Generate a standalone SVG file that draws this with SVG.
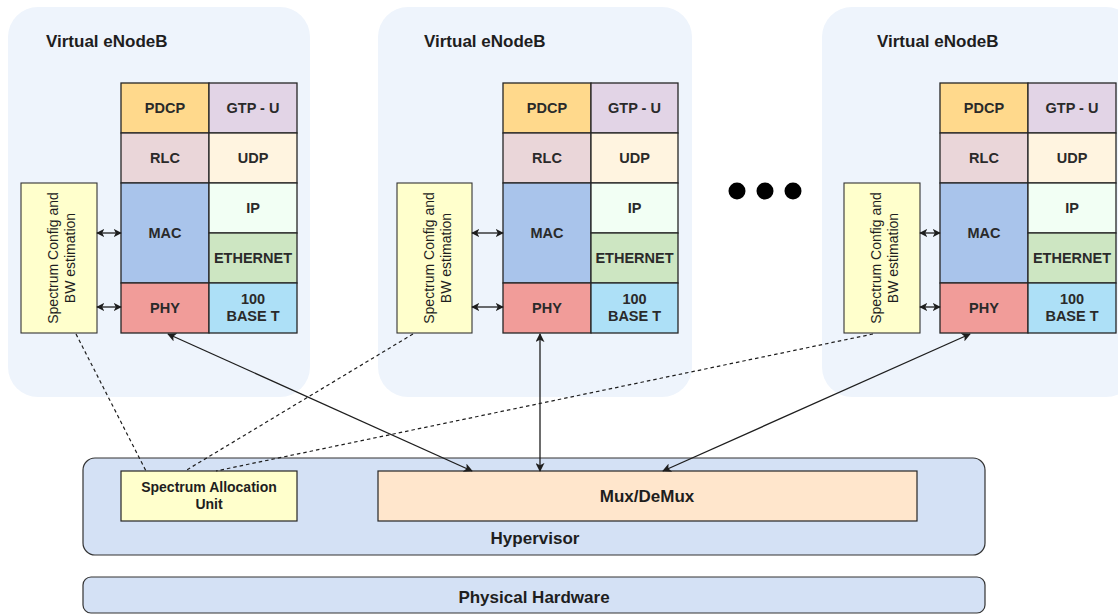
<svg xmlns="http://www.w3.org/2000/svg" width="1118" height="614" viewBox="0 0 1118 614">
<style>
text{font-family:"Liberation Sans",Arial,sans-serif;fill:#1e1e1e}
.vnb{fill:#eef4fc}
.title{font-size:17px;font-weight:bold}
.cell{stroke:#262626;stroke-width:1.3}
.lbl{font-size:14.5px;font-weight:bold;text-anchor:middle;dominant-baseline:central;fill:#2a2a2a}
.spec{fill:#ffffcc;stroke:#333;stroke-width:1.1}
.spt{font-size:14px;text-anchor:middle}
.big{font-size:17px;font-weight:bold;text-anchor:middle;dominant-baseline:central}
.hv{fill:#d4e1f5;stroke:#333;stroke-width:1.2}
.ln{stroke:#1e1e1e;stroke-width:1.3;fill:none}
.dash{stroke:#1e1e1e;stroke-width:1.2;fill:none;stroke-dasharray:3.5 3}
</style>
<defs>
<marker id="ah" viewBox="0 0 10 10" refX="9" refY="5" markerWidth="9" markerHeight="9" markerUnits="userSpaceOnUse" orient="auto-start-reverse">
<path d="M0,0 L10,5 L0,10 L2.5,5 Z" fill="#1e1e1e"/>
</marker>
<marker id="ahs" viewBox="0 0 10 10" refX="9" refY="5" markerWidth="8" markerHeight="8" markerUnits="userSpaceOnUse" orient="auto-start-reverse">
<path d="M0,0 L10,5 L0,10 L2.5,5 Z" fill="#1e1e1e"/>
</marker>
</defs>

<g id="vnb1">
<rect class="vnb" x="8" y="7" width="302" height="390" rx="30"/>
<text class="title" x="46" y="47">Virtual eNodeB</text>
<rect class="cell" x="121" y="83" width="88" height="50" fill="#ffd98c"/>
<rect class="cell" x="209" y="83" width="88" height="50" fill="#e2d4e6"/>
<rect class="cell" x="121" y="133" width="88" height="50" fill="#ead6d9"/>
<rect class="cell" x="209" y="133" width="88" height="50" fill="#fff4e0"/>
<rect class="cell" x="121" y="183" width="88" height="100" fill="#a9c4eb"/>
<rect class="cell" x="209" y="183" width="88" height="50" fill="#f2fff4"/>
<rect class="cell" x="209" y="233" width="88" height="50" fill="#cde6c2"/>
<rect class="cell" x="121" y="283" width="88" height="50" fill="#f19c99"/>
<rect class="cell" x="209" y="283" width="88" height="50" fill="#ade0f7"/>
<text class="lbl" x="165" y="108">PDCP</text>
<text class="lbl" x="253" y="108">GTP - U</text>
<text class="lbl" x="165" y="158">RLC</text>
<text class="lbl" x="253" y="158">UDP</text>
<text class="lbl" x="165" y="233">MAC</text>
<text class="lbl" x="253" y="208">IP</text>
<text class="lbl" x="253" y="258">ETHERNET</text>
<text class="lbl" x="165" y="308">PHY</text>
<text class="lbl" x="253" y="299">100</text>
<text class="lbl" x="253" y="316">BASE T</text>
<rect class="spec" x="21" y="183" width="76" height="150"/>
<text class="spt" transform="translate(59,258) rotate(-90)"><tspan x="0" y="-1">Spectrum Config and</tspan><tspan x="0" y="16">BW estimation</tspan></text>
</g>

<g id="vnb2">
<rect class="vnb" x="378" y="7" width="314" height="390" rx="30"/>
<text class="title" x="424" y="47">Virtual eNodeB</text>
<rect class="cell" x="503" y="83" width="88" height="50" fill="#ffd98c"/>
<rect class="cell" x="591" y="83" width="87" height="50" fill="#e2d4e6"/>
<rect class="cell" x="503" y="133" width="88" height="50" fill="#ead6d9"/>
<rect class="cell" x="591" y="133" width="87" height="50" fill="#fff4e0"/>
<rect class="cell" x="503" y="183" width="88" height="100" fill="#a9c4eb"/>
<rect class="cell" x="591" y="183" width="87" height="50" fill="#f2fff4"/>
<rect class="cell" x="591" y="233" width="87" height="50" fill="#cde6c2"/>
<rect class="cell" x="503" y="283" width="88" height="50" fill="#f19c99"/>
<rect class="cell" x="591" y="283" width="87" height="50" fill="#ade0f7"/>
<text class="lbl" x="547" y="108">PDCP</text>
<text class="lbl" x="634.5" y="108">GTP - U</text>
<text class="lbl" x="547" y="158">RLC</text>
<text class="lbl" x="634.5" y="158">UDP</text>
<text class="lbl" x="547" y="233">MAC</text>
<text class="lbl" x="634.5" y="208">IP</text>
<text class="lbl" x="634.5" y="258">ETHERNET</text>
<text class="lbl" x="547" y="308">PHY</text>
<text class="lbl" x="634.5" y="299">100</text>
<text class="lbl" x="634.5" y="316">BASE T</text>
<rect class="spec" x="397" y="183" width="75" height="150"/>
<text class="spt" transform="translate(434.5,258) rotate(-90)"><tspan x="0" y="-1">Spectrum Config and</tspan><tspan x="0" y="16">BW estimation</tspan></text>
</g>

<g id="dots">
<circle cx="737" cy="191" r="8.5" fill="#000"/>
<circle cx="765" cy="191" r="8.5" fill="#000"/>
<circle cx="793" cy="191" r="8.5" fill="#000"/>
</g>

<g id="vnb3">
<rect class="vnb" x="822" y="7" width="314" height="390" rx="30"/>
<text class="title" x="877" y="47">Virtual eNodeB</text>
<rect class="cell" x="940" y="83" width="88" height="50" fill="#ffd98c"/>
<rect class="cell" x="1028" y="83" width="88" height="50" fill="#e2d4e6"/>
<rect class="cell" x="940" y="133" width="88" height="50" fill="#ead6d9"/>
<rect class="cell" x="1028" y="133" width="88" height="50" fill="#fff4e0"/>
<rect class="cell" x="940" y="183" width="88" height="100" fill="#a9c4eb"/>
<rect class="cell" x="1028" y="183" width="88" height="50" fill="#f2fff4"/>
<rect class="cell" x="1028" y="233" width="88" height="50" fill="#cde6c2"/>
<rect class="cell" x="940" y="283" width="88" height="50" fill="#f19c99"/>
<rect class="cell" x="1028" y="283" width="88" height="50" fill="#ade0f7"/>
<text class="lbl" x="984" y="108">PDCP</text>
<text class="lbl" x="1072" y="108">GTP - U</text>
<text class="lbl" x="984" y="158">RLC</text>
<text class="lbl" x="1072" y="158">UDP</text>
<text class="lbl" x="984" y="233">MAC</text>
<text class="lbl" x="1072" y="208">IP</text>
<text class="lbl" x="1072" y="258">ETHERNET</text>
<text class="lbl" x="984" y="308">PHY</text>
<text class="lbl" x="1072" y="299">100</text>
<text class="lbl" x="1072" y="316">BASE T</text>
<rect class="spec" x="844" y="183" width="76" height="150"/>
<text class="spt" transform="translate(882,258) rotate(-90)"><tspan x="0" y="-1">Spectrum Config and</tspan><tspan x="0" y="16">BW estimation</tspan></text>
</g>

<g id="hypervisor">
<rect class="hv" x="83" y="458" width="902" height="97" rx="12"/>
<text class="big" x="535" y="538">Hypervisor</text>
</g>
<g id="spectrum-allocation">
<rect x="121" y="471" width="176" height="50" fill="#ffffcc" stroke="#262626" stroke-width="1.2"/>
<text class="spt" x="209" y="492" font-weight="bold" font-size="14.5">Spectrum Allocation</text>
<text class="spt" x="209" y="509" font-weight="bold" font-size="14.5">Unit</text>
</g>
<g id="mux">
<rect x="378" y="471" width="539" height="50" fill="#ffe6cc" stroke="#262626" stroke-width="1.2"/>
<text class="big" x="647" y="496">Mux/DeMux</text>
</g>
<g id="physical-hardware">
<rect class="hv" x="83" y="577" width="902" height="36" rx="8"/>
<text class="big" x="534" y="597">Physical Hardware</text>
</g>

<g id="connectors">
<line class="ln" x1="97" y1="233" x2="121" y2="233" marker-start="url(#ahs)" marker-end="url(#ahs)"/>
<line class="ln" x1="97" y1="307" x2="121" y2="307" marker-start="url(#ahs)" marker-end="url(#ahs)"/>
<line class="ln" x1="472" y1="233" x2="503" y2="233" marker-start="url(#ahs)" marker-end="url(#ahs)"/>
<line class="ln" x1="472" y1="307" x2="503" y2="307" marker-start="url(#ahs)" marker-end="url(#ahs)"/>
<line class="ln" x1="920" y1="233" x2="940" y2="233" marker-start="url(#ahs)" marker-end="url(#ahs)"/>
<line class="ln" x1="920" y1="307" x2="940" y2="307" marker-start="url(#ahs)" marker-end="url(#ahs)"/>
<line class="ln" x1="168" y1="334" x2="472" y2="471" marker-start="url(#ah)" marker-end="url(#ah)"/>
<line class="ln" x1="540" y1="334" x2="540" y2="471" marker-start="url(#ah)" marker-end="url(#ah)"/>
<line class="ln" x1="970" y1="334" x2="663" y2="471" marker-start="url(#ah)" marker-end="url(#ah)"/>
<line class="dash" x1="76" y1="334" x2="146" y2="471"/>
<line class="dash" x1="413" y1="334" x2="185" y2="471"/>
<line class="dash" x1="873" y1="334" x2="216" y2="471"/>
</g>
</svg>
